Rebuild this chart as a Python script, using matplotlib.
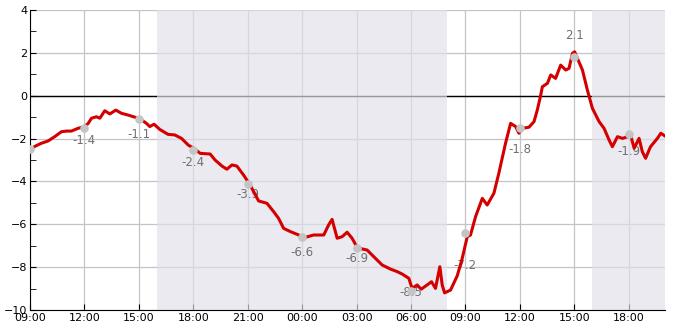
import matplotlib
matplotlib.use("Agg")
import matplotlib.pyplot as plt
import matplotlib.dates as mdates
from matplotlib.ticker import MultipleLocator
import numpy as np
import pandas as pd

# hours since 09:00 on day 1, and temperature
hours = [0.0, 0.3, 0.62, 1.0, 1.36, 1.73, 2.0, 2.28, 2.65, 3.0, 3.2, 3.39, 3.66, 3.85,
         4.12, 4.4, 4.73, 5.04, 5.4, 5.78, 6.1, 6.42, 6.6, 6.84, 7.15, 7.6, 7.98, 8.35,
         8.72, 9.09, 9.38, 9.93, 10.2, 10.58, 10.85, 11.13, 11.4, 11.77, 12.1, 12.33,
         12.6, 13.06, 13.43, 13.7, 13.98, 14.35, 14.9, 15.18, 15.63, 16.19, 16.46,
         16.65, 16.93, 17.2, 17.48, 17.75, 18.03, 18.3, 18.58, 19.04, 19.41, 19.87,
         20.24, 20.51, 20.88, 21.06, 21.34, 21.56, 21.89, 22.13, 22.35, 22.59, 22.72,
         22.85, 23.18, 23.55, 23.82, 24.1, 24.28, 24.56, 24.93, 25.2, 25.57, 25.84,
         26.21, 26.49, 26.77, 26.95, 27.13, 27.5, 27.78, 27.96, 28.15, 28.24, 28.52,
         28.7, 28.97, 29.25, 29.53, 29.71, 29.9, 30.02, 30.17, 30.45, 30.72, 31.0,
         31.37, 31.64, 31.92, 32.1, 32.38, 32.66, 32.94, 33.1, 33.3, 33.57, 33.75,
         33.93, 34.2, 34.58, 34.77, 35.0]
temps = [-2.5, -2.35, -2.22, -2.11, -1.91, -1.68, -1.65, -1.65, -1.52, -1.44, -1.3, -1.05,
         -0.98, -1.05, -0.7, -0.85, -0.67, -0.82, -0.9, -1.0, -1.1, -1.29, -1.44, -1.33,
         -1.57, -1.8, -1.83, -1.99, -2.3, -2.49, -2.69, -2.72, -3.0, -3.28, -3.43, -3.23,
         -3.28, -3.7, -4.12, -4.48, -4.91, -5.02, -5.41, -5.72, -6.19, -6.34, -6.53,
         -6.61, -6.5, -6.5, -6.03, -5.77, -6.65, -6.58, -6.37, -6.65, -7.07, -7.15,
         -7.2, -7.59, -7.9, -8.09, -8.21, -8.32, -8.52, -8.99, -8.83, -9.03, -8.83,
         -8.68, -8.99, -7.98, -8.83, -9.2, -9.07, -8.4, -7.6, -6.58, -6.5, -5.64,
         -4.79, -5.1, -4.55, -3.62, -2.22, -1.29, -1.44, -1.75, -1.52, -1.47, -1.21,
         -0.67, 0.03, 0.42, 0.58, 0.97, 0.81, 1.43, 1.2, 1.28, 1.98, 2.05, 1.75, 1.2,
         0.27, -0.59, -1.21, -1.52, -2.07, -2.38, -1.91, -1.99, -1.91, -1.83, -2.45,
         -1.99, -2.61, -2.92, -2.38, -1.99, -1.75, -1.88]

# 3-hourly markers and their labels
mark_hours = [0, 3, 6, 9, 12, 15, 18, 21, 24, 27, 30, 33]
mark_temps = [-2.5, -1.5, -1.1, -2.55, -4.12, -6.6, -7.1, -9.1, -6.4, -1.5, 1.8, -1.8]
label_vals = [None, -1.4, -1.1, -2.4, -3.9, -6.6, -6.9, -8.5, -7.2, -1.8, 2.1, -1.9]

# night shading (hours since start)
nights = [(7, 23), (31, 35)]

start = pd.Timestamp("2024-01-10 09:00")
t = start + pd.to_timedelta(hours, unit="h")
mt = start + pd.to_timedelta(mark_hours, unit="h")

fig = plt.figure(figsize=(6.85, 3.3), dpi=100)
ax = fig.add_axes([0.0438, 0.0606, 0.927, 0.909])

ax.axhline(0, color="black", lw=1, zorder=1.1)
for a, b in nights:
    ax.axvspan(start + pd.Timedelta(hours=a), start + pd.Timedelta(hours=b),
               color="#e0e0ea", alpha=0.68, lw=0, zorder=1.2)

ax.plot(t, temps, color="#d40000", lw=2.2, zorder=3)
ax.scatter(mt, mark_temps, s=38, color="#c4c4c4", zorder=4, lw=0)
for x, v in zip(mt, label_vals):
    if v is None:
        continue
    off = 0.7 if v > 0 else -0.7
    ax.text(x, v + off, f"{v:.1f}", ha="center", va="center",
            fontsize=8.5, color="#707070", zorder=2)

ax.set_xlim(start, start + pd.Timedelta(hours=35))
ax.set_ylim(-10, 4)
ax.yaxis.set_major_locator(MultipleLocator(2))
ax.yaxis.set_minor_locator(MultipleLocator(1))
ax.xaxis.set_major_locator(mdates.HourLocator(byhour=[0, 3, 6, 9, 12, 15, 18, 21]))
ax.xaxis.set_major_formatter(mdates.DateFormatter("%H:%M"))

ax.set_axisbelow(True)
ax.grid(True, which="major", color="#c4c4c8", lw=0.9)
for s in ["top", "right"]:
    ax.spines[s].set_visible(False)
ax.tick_params(direction="in", labelsize=8, length=4, pad=2)
ax.tick_params(which="minor", direction="in", length=4)

fig.savefig("out.png", dpi=100)
